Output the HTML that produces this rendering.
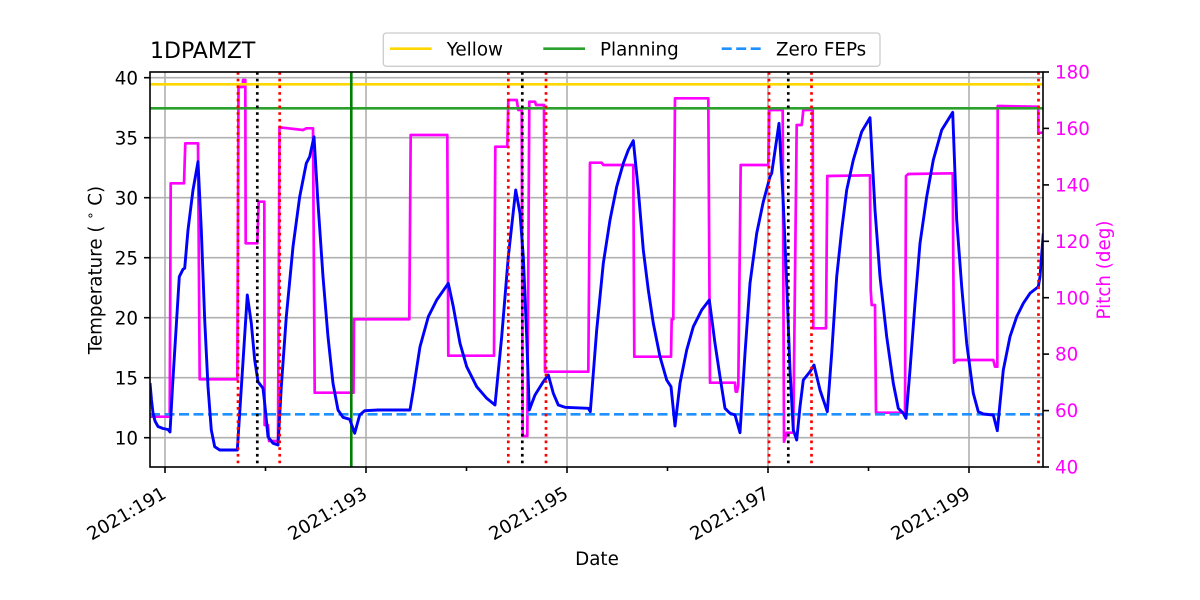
<!DOCTYPE html>
<html>
<head>
<meta charset="utf-8">
<style>
  html, body { margin: 0; padding: 0; background: #ffffff; }
  svg { display: block; }
  text { font-family: "DejaVu Sans", "Liberation Sans", sans-serif; }
</style>
</head>
<body>
<svg width="1200" height="600" viewBox="0 0 1200 600" xmlns="http://www.w3.org/2000/svg">
  <defs>
    <clipPath id="ax"><rect x="150" y="72" width="893" height="395"/></clipPath>
  </defs>
  <rect x="0" y="0" width="1200" height="600" fill="#ffffff"/>

  <!-- grid -->
  <g stroke="#b0b0b0" stroke-width="1.6" fill="none">
    <line x1="150" y1="437.7" x2="1043" y2="437.7"/>
    <line x1="150" y1="377.7" x2="1043" y2="377.7"/>
    <line x1="150" y1="317.7" x2="1043" y2="317.7"/>
    <line x1="150" y1="257.7" x2="1043" y2="257.7"/>
    <line x1="150" y1="197.7" x2="1043" y2="197.7"/>
    <line x1="150" y1="137.7" x2="1043" y2="137.7"/>
    <line x1="150" y1="77.7" x2="1043" y2="77.7"/>
    <line x1="165" y1="72" x2="165" y2="467"/>
    <line x1="366" y1="72" x2="366" y2="467"/>
    <line x1="567" y1="72" x2="567" y2="467"/>
    <line x1="768" y1="72" x2="768" y2="467"/>
    <line x1="969" y1="72" x2="969" y2="467"/>
  </g>

  <g clip-path="url(#ax)" fill="none" stroke-linejoin="round">
    <!-- pitch (magenta) -->
    <polyline stroke="#ff00ff" stroke-width="2.7" points="
      150,416.7 169.7,416.7 170.7,183.3 184,183.3 185.3,143.3 198,143.3 199.7,379.3 237.3,379.3
      238.5,87 242.7,87 243,80 245.3,80 245.7,243.3 257.3,243.3 258.7,201.7 264.3,201.7 264.6,425 268,425
      269,441 278,441 279.5,127.3 303,130 306.3,128.3 313,128.3 314.7,392.7 353.5,392.7 354,319.3
      409.3,319.3 410.7,135 447.3,135 448.3,355.7 494,355.7 495.3,146.7 507.3,146.7 508.3,100 516.7,100
      518.3,110 521.7,110 522.7,436 527.3,436 529.3,101.7 535,101.7 536,105 544,105 545,371.7 588.3,371.7
      590,162.7 601.7,162.7 603.3,165 633.3,165 634.3,356.7 671,356.7 671.7,319.3 673.3,319.3 675,98.3
      708.3,98.3 710,382.7 735,382.7 735.7,391.7 737,391.7 738.3,385 740.7,165 768.3,165 769.3,110
      782.7,110 784,441.7 786.7,432.7 793.3,432.7 796.7,125 801.7,125 802,122.7 803.3,110 812.7,110
      813.3,328.3 826,328.3 827.3,176 870,175.3 870.7,290 871.7,305 875,305 876,412.7 905,412.7 906,176
      908.3,174 952.7,173.3 954,362.7 956.7,360 993.3,360 995,366.7 997.3,366.7 997.7,106 1038.3,106.7
      1038.3,132.7 1043,132.7"/>

    <!-- horizontal reference lines -->
    <line x1="150" y1="84.3" x2="1043" y2="84.3" stroke="#ffd700" stroke-width="2.6"/>
    <line x1="150" y1="108.3" x2="1043" y2="108.3" stroke="#2ca02c" stroke-width="2.6"/>
    <line x1="150" y1="414.3" x2="1043" y2="414.3" stroke="#1e90ff" stroke-width="2.6" stroke-dasharray="10 4.5"/>

    <!-- vertical green -->
    <line x1="351.3" y1="72" x2="351.3" y2="467" stroke="#008000" stroke-width="2.6"/>

    <!-- temperature (blue) -->
    <polyline stroke="#0000ff" stroke-width="2.9" points="
      150,383 151.5,400 153,413 155,421 158,426.5 163,428.5 168,429.5 170,432
      172.5,386.7 179.3,276.7 183,269.3 184.7,268.3 188,230 193,190 198,161.7
      201.3,230 204.7,320 208,386.7 211.3,430 214.7,446.7 219.7,450 237.3,450
      247.3,295 251.3,323.3 254.7,360 258,381.7 263,388.3 264.7,403.3 268,436.7 273,443.3 278,445
      281.3,386.7 286.3,316.7 293,246.7 299.7,196.7 306.3,163.3 309.7,156.7 314,136.7
      318,203.3 323,276.7 328,336.7 333,383.3 338,410 343,417.3 349.7,419.3 354.7,433.3 359.7,415
      364.7,410.7 378,410 410,410
      413.3,390 420,346.7 428.3,316.7 436.7,300 448.3,283.3
      453.3,306.7 460,343.3 466.7,366.7 476.7,386.7 486.7,398.3 495,405
      501.7,336.7 508.3,256.7 515.7,190 520,213.3 523.3,256.7 526.7,336.7 529.3,410
      535,395 543.3,381.7 548.3,375 553.3,393.3 558.3,405 565,407.3 588.3,408.3 590.3,411.7
      596.7,330 603.3,263.3 610,220 616.7,186.7 623.3,163.3 628.3,150 633.3,140.7
      638.3,190 643.3,250 648.3,290 653.3,323.3 660,356.7 666.7,380 671,386.7 675,426
      680,383.3 686.7,350 693.3,326.7 701.7,310 709.3,300
      715,343.3 720,376.7 725,408.3 730,413.3 735,415 740,432.7
      745,353.3 750,283.3 756.7,233.3 763.3,201.7 770,176.7 771.7,173.3 779,123.3
      783.3,203.3 786.7,283.3 790,370 793.3,430 796.7,440 800,406.7 803.3,380 810,371.7 814,365
      820,390 827.3,411.7
      831.7,353.3 836.7,276.7 841.7,230 846.7,190 853.3,160 861.7,131.7 870,117.7
      875,210 880,276.7 886.7,336.7 893.3,383.3 898.3,408.3 903.3,413.3 906,418.3
      910,370 915,303.3 920,243.3 926.7,196.7 933.3,160 941.7,130 952.7,112.3
      956.7,220 961.7,286.7 966.7,343.3 973.3,393.3 978.3,411.7 983.3,414 993.3,415 997.3,430.7
      1003.3,370 1010,336.7 1016.7,316.7 1023.3,303.3 1030,293.3 1038.3,286.7 1040,276.7 1043.3,233.3"/>

    <!-- red dotted -->
    <g stroke="#ff0000" stroke-width="2.7" stroke-dasharray="2.7 4">
      <line x1="238" y1="72" x2="238" y2="467"/>
      <line x1="279.7" y1="72" x2="279.7" y2="467"/>
      <line x1="508.3" y1="72" x2="508.3" y2="467"/>
      <line x1="546" y1="72" x2="546" y2="467"/>
      <line x1="769" y1="72" x2="769" y2="467"/>
      <line x1="811.5" y1="72" x2="811.5" y2="467"/>
      <line x1="1038.5" y1="72" x2="1038.5" y2="467"/>
    </g>
    <!-- black dotted -->
    <g stroke="#000000" stroke-width="2.7" stroke-dasharray="2.7 4">
      <line x1="257.3" y1="72" x2="257.3" y2="467"/>
      <line x1="522.3" y1="72" x2="522.3" y2="467"/>
      <line x1="788.3" y1="72" x2="788.3" y2="467"/>
    </g>
  </g>

  <!-- spines -->
  <rect x="150" y="72" width="893" height="395" fill="none" stroke="#000000" stroke-width="1.6"/>

  <!-- ticks -->
  <g stroke="#000" stroke-width="1.6">
    <line x1="144" y1="437.7" x2="150" y2="437.7"/>
    <line x1="144" y1="377.7" x2="150" y2="377.7"/>
    <line x1="144" y1="317.7" x2="150" y2="317.7"/>
    <line x1="144" y1="257.7" x2="150" y2="257.7"/>
    <line x1="144" y1="197.7" x2="150" y2="197.7"/>
    <line x1="144" y1="137.7" x2="150" y2="137.7"/>
    <line x1="144" y1="77.7" x2="150" y2="77.7"/>
    <line x1="1043" y1="467" x2="1049" y2="467"/>
    <line x1="1043" y1="410.6" x2="1049" y2="410.6"/>
    <line x1="1043" y1="354.1" x2="1049" y2="354.1"/>
    <line x1="1043" y1="297.7" x2="1049" y2="297.7"/>
    <line x1="1043" y1="241.3" x2="1049" y2="241.3"/>
    <line x1="1043" y1="184.9" x2="1049" y2="184.9"/>
    <line x1="1043" y1="128.4" x2="1049" y2="128.4"/>
    <line x1="1043" y1="72" x2="1049" y2="72"/>
    <line x1="165" y1="467" x2="165" y2="473"/>
    <line x1="366" y1="467" x2="366" y2="473"/>
    <line x1="567" y1="467" x2="567" y2="473"/>
    <line x1="768" y1="467" x2="768" y2="473"/>
    <line x1="969" y1="467" x2="969" y2="473"/>
    <line x1="265.5" y1="467" x2="265.5" y2="471"/>
    <line x1="466.5" y1="467" x2="466.5" y2="471"/>
    <line x1="667.5" y1="467" x2="667.5" y2="471"/>
    <line x1="868.5" y1="467" x2="868.5" y2="471"/>
  </g>

  <!-- left tick labels -->
  <g font-size="18.3" fill="#000" text-anchor="end">
    <text x="138" y="444.3">10</text>
    <text x="138" y="384.3">15</text>
    <text x="138" y="324.3">20</text>
    <text x="138" y="264.3">25</text>
    <text x="138" y="204.3">30</text>
    <text x="138" y="144.3">35</text>
    <text x="138" y="84.3">40</text>
  </g>
  <!-- right tick labels -->
  <g font-size="18.3" fill="#ff00ff" text-anchor="start">
    <text x="1055" y="473.6">40</text>
    <text x="1055" y="417.2">60</text>
    <text x="1055" y="360.7">80</text>
    <text x="1055" y="304.3">100</text>
    <text x="1055" y="247.9">120</text>
    <text x="1055" y="191.5">140</text>
    <text x="1055" y="135">160</text>
    <text x="1055" y="78.6">180</text>
  </g>
  <!-- x tick labels -->
  <g font-size="18.3" fill="#000" text-anchor="end">
    <text transform="translate(167.5,497) rotate(-30)">2021:191</text>
    <text transform="translate(368.5,497) rotate(-30)">2021:193</text>
    <text transform="translate(569.5,497) rotate(-30)">2021:195</text>
    <text transform="translate(770.5,497) rotate(-30)">2021:197</text>
    <text transform="translate(971.5,497) rotate(-30)">2021:199</text>
  </g>

  <!-- axis labels -->
  <text x="597" y="565" font-size="18.3" text-anchor="middle" fill="#000">Date</text>
  <text transform="translate(101.5,270) rotate(-90)" font-size="18.3" text-anchor="middle" fill="#000">Temperature ( <tspan font-size="13" dy="-7">∘</tspan><tspan dy="7"> C)</tspan></text>
  <text transform="translate(1110,270) rotate(-90)" font-size="18.3" text-anchor="middle" fill="#ff00ff">Pitch (deg)</text>

  <!-- title -->
  <text x="150" y="58" font-size="22" fill="#000">1DPAMZT</text>

  <!-- legend -->
  <rect x="383.3" y="33" width="496.7" height="33.3" rx="3" ry="3" fill="#ffffff" fill-opacity="0.8" stroke="#cccccc" stroke-width="1.3"/>
  <line x1="390" y1="48.7" x2="431.7" y2="48.7" stroke="#ffd700" stroke-width="2.6"/>
  <text x="446.7" y="55.4" font-size="18.3" fill="#000">Yellow</text>
  <line x1="543.3" y1="48.7" x2="585" y2="48.7" stroke="#2ca02c" stroke-width="2.6"/>
  <text x="600" y="55.4" font-size="18.3" fill="#000">Planning</text>
  <line x1="721.7" y1="48.7" x2="763" y2="48.7" stroke="#1e90ff" stroke-width="2.6" stroke-dasharray="10 4.5"/>
  <text x="776" y="55.4" font-size="18.3" fill="#000">Zero FEPs</text>
</svg>
</body>
</html>
